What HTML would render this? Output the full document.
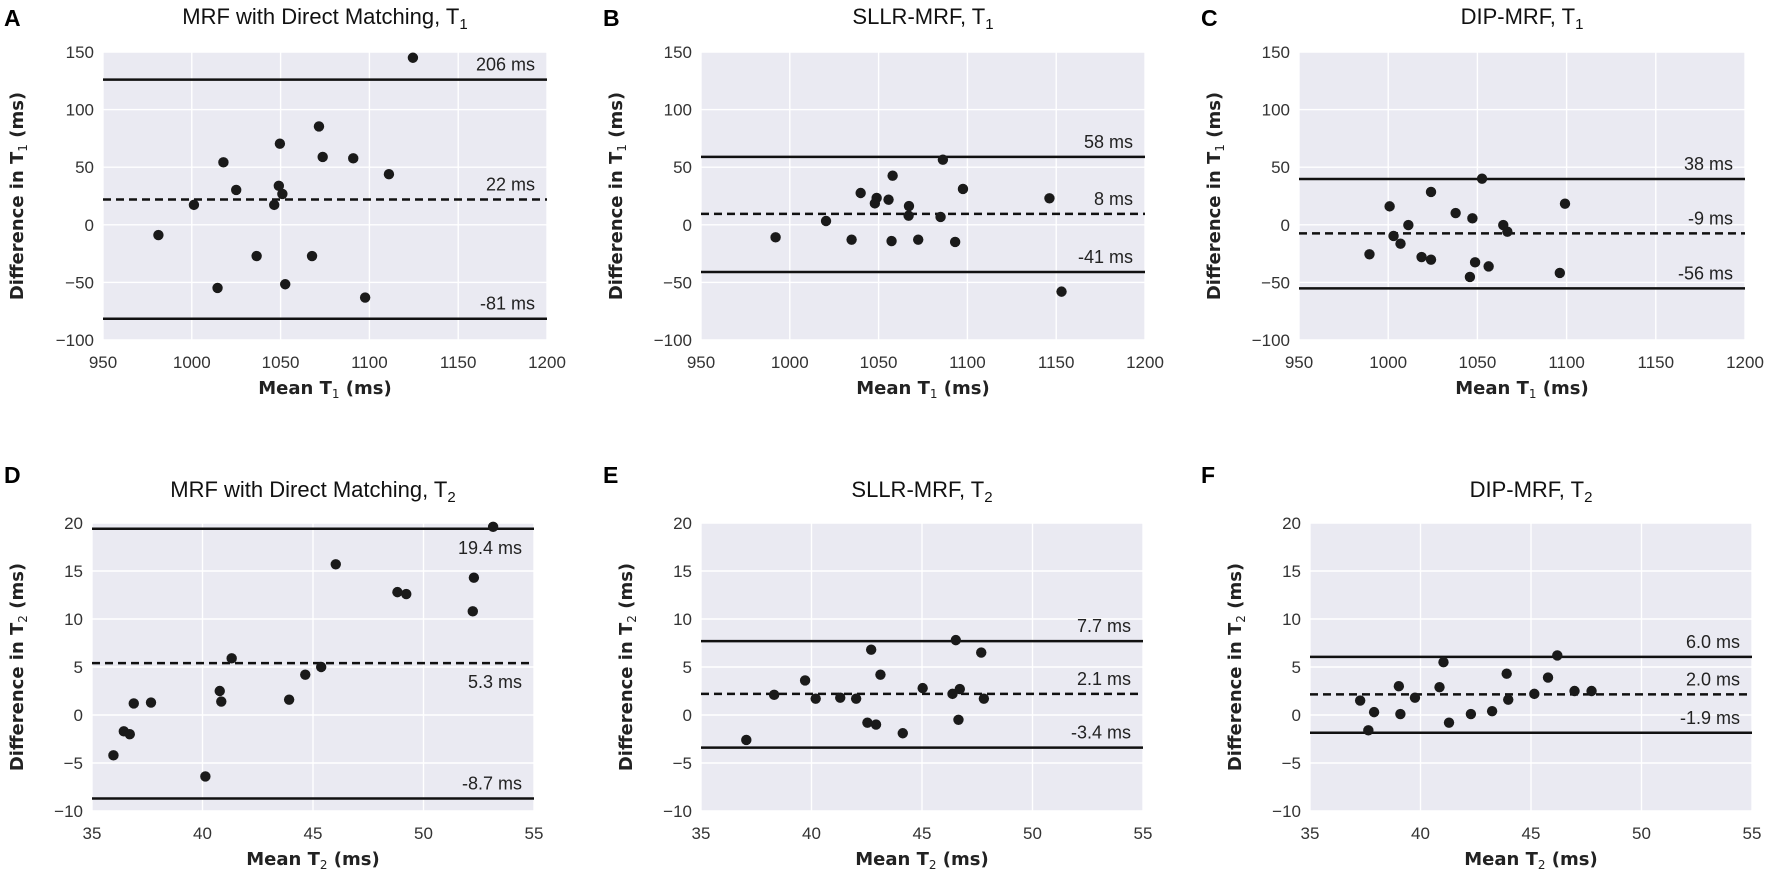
<!DOCTYPE html>
<html>
<head>
<meta charset="utf-8">
<style>
  html, body { margin:0; padding:0; background:#fff; }
  svg { display:block; font-family:"Liberation Sans", Arial, sans-serif; }
</style>
</head>
<body>
<svg id="fig" width="1772" height="877" viewBox="0 0 1772 877" xmlns="http://www.w3.org/2000/svg"></svg>
<script>
// ---------- Data ----------
const aX = [1124.5,1071.6,1049.6,1017.8,1073.7,1090.9,1111,1049,1051,1025,1001.2,1046.4,981.2,1036.5,1067.7,1014.5,1052.6,1097.6];
const aY = [145,85.4,70.4,54.2,58.9,57.7,43.9,33.8,26.8,30.3,17.3,17.3,-8.9,-27.1,-27.1,-54.8,-51.6,-63.2];
const aLines = [126, 22, -81.5];
const aLineLabels = ["206 ms", "22 ms", "-81 ms"];

const bX = [992.0,1020.4,1034.8,1039.9,1047.9,1048.9,1055.6,1057.9,1057.3,1067.1,1066.9,1072.3,1086.2,1084.9,1093.1,1097.5,1146.2,1153.0];
const bY = [-10.9,3.3,-12.9,27.6,18.6,23.3,21.8,42.6,-14.1,16.3,7.9,-12.9,56.5,6.8,-14.9,31.1,23.0,-58.0];
const bLines = [59, 9.5, -41];
const bLineLabels = ["58 ms", "8 ms", "-41 ms"];

const cX = [989.5,1000.8,1003.0,1006.9,1011.3,1018.7,1024.0,1024.0,1037.8,1045.8,1047.2,1048.7,1052.6,1056.3,1064.5,1066.8,1096.2,1099.1];
const cY = [-25.6,16.0,-9.7,-16.4,-0.2,-28.0,28.5,-30.3,10.2,-45.3,5.6,-32.6,40.0,-36.1,-0.2,-6.0,-41.8,18.3];
const cLines = [39.8, -7.4, -55.2];
const cLineLabels = ["38 ms", "-9 ms", "-56 ms"];

const dX = [53.15,46.03,52.28,48.82,49.22,52.23,41.32,45.37,44.65,40.78,40.85,43.92,36.89,37.67,36.44,36.71,35.97,40.13];
const dY = [19.6,15.7,14.3,12.8,12.6,10.8,5.9,5.0,4.2,2.5,1.4,1.6,1.2,1.3,-1.7,-2.0,-4.2,-6.4];
const dLines = [19.4, 5.4, -8.7];
const dLineLabels = ["19.4 ms", "5.3 ms", "-8.7 ms"];

const eX = [37.05,38.31,39.71,40.19,41.30,42.02,42.70,42.53,42.92,43.12,44.13,45.03,46.38,46.53,46.71,46.65,47.68,47.80];
const eY = [-2.6,2.1,3.6,1.7,1.8,1.7,6.8,-0.8,-1.0,4.2,-1.9,2.8,2.2,7.8,2.7,-0.5,6.5,1.7];
const eLines = [7.7, 2.2, -3.4];
const eLineLabels = ["7.7 ms", "2.1 ms", "-3.4 ms"];

const fX = [37.27,37.64,37.90,39.02,39.09,39.75,40.86,41.04,41.29,42.28,43.24,43.90,43.97,45.15,45.77,46.19,46.97,47.74];
const fY = [1.5,-1.6,0.3,3.0,0.1,1.8,2.9,5.5,-0.8,0.1,0.4,4.3,1.6,2.2,3.9,6.2,2.5,2.5];
const fLines = [6.05, 2.15, -1.85];
const fLineLabels = ["6.0 ms", "2.0 ms", "-1.9 ms"];

const t1XTicks = [950,1000,1050,1100,1150,1200];
const t1YTicks = [150,100,50,0,-50,-100];
const t2XTicks = [35,40,45,50,55];
const t2YTicks = [20,15,10,5,0,-5,-10];

// ---------- Rendering ----------
const NS = "http://www.w3.org/2000/svg";
const svg = document.getElementById("fig");
function mk(tag, attrs, parent) {
  const e = document.createElementNS(NS, tag);
  for (const k in attrs) e.setAttribute(k, attrs[k]);
  (parent || svg).appendChild(e);
  return e;
}
function fmt(v) { return v < 0 ? "\u2212" + Math.abs(v) : String(v); }

function panel(cfg) {
  const g = mk("g", {});
  
  
  const {L, R, T, B} = cfg;
  const xs = v => L + (v - cfg.xMin) / (cfg.xMax - cfg.xMin) * (R - L);
  const ys = v => T + (cfg.yMax - v) / (cfg.yMax - cfg.yMin) * (B - T);

  const bg = mk("rect", {x:L, y:T, width:R-L, height:B-T, fill:"#EAEAF2"}, g);
  
  

  cfg.xTicks.forEach(t => {
    const gl = mk("line", {x1:xs(t), x2:xs(t), y1:T, y2:B, stroke:"#fff", "stroke-width":1.4}, g);
    
    
    const tl = mk("text", {x:xs(t), y:B+28, "text-anchor":"middle", "font-size":17, fill:"#333"}, g);
    tl.textContent = fmt(t);
    
    
  });
  cfg.yTicks.forEach(t => {
    const gl = mk("line", {x1:L, x2:R, y1:ys(t), y2:ys(t), stroke:"#fff", "stroke-width":1.4}, g);
    
    
    const tl = mk("text", {x:L-9, y:ys(t)+6, "text-anchor":"end", "font-size":17, fill:"#333"}, g);
    tl.textContent = fmt(t);
    
    
  });

  const names = ["upper-limit-line", "mean-difference-line", "lower-limit-line"];
  cfg.lines.forEach((v, i) => {
    const attrs = {x1:L, x2:R, y1:ys(v), y2:ys(v), stroke:"#111", "stroke-width":2.5};
    if (i === 1) attrs["stroke-dasharray"] = "8,5";
    const ln = mk("line", attrs, g);
    
    
    const below = cfg.labelBelow[i];
    const lb = mk("text", {x:R-12, y: below ? ys(v)+25 : ys(v)-9, "text-anchor":"end", "font-size":18, fill:"#222"}, g);
    lb.textContent = cfg.lineLabels[i];
    
    
  });

  cfg.px.forEach((xv, i) => {
    const c = mk("circle", {cx:xs(xv), cy:ys(cfg.py[i]), r:5.2, fill:"#1a1a1a"}, g);
    
    
  });

  const pl = mk("text", {x:cfg.letterX, y:cfg.letterY, "font-size":23, "font-weight":"bold", fill:"#000"}, g);
  pl.textContent = cfg.letter;
  
  

  const tt = mk("text", {x:(L+R)/2, y:cfg.titleY, "text-anchor":"middle", "font-size":22, fill:"#111"}, g);
  
  
  tt.appendChild(document.createTextNode(cfg.title + ", T"));
  const ts = mk("tspan", {"font-size":15, dy:5}, tt);
  ts.textContent = cfg.sub;

  const xl = mk("text", {x:(L+R)/2, y:B+54, "text-anchor":"middle", "font-size":18, "font-weight":"bold", fill:"#222", "font-family":"DejaVu Sans, sans-serif"}, g);
  
  
  xl.appendChild(document.createTextNode("Mean T"));
  const xs2 = mk("tspan", {"font-size":12, "font-weight":"normal", dy:4}, xl);
  xs2.textContent = cfg.sub;
  const xs3 = mk("tspan", {dy:-4}, xl);
  xs3.textContent = " (ms)";

  const yc = (T+B)/2, yx = cfg.yLabelX;
  const yl = mk("text", {x:yx, y:yc, "text-anchor":"middle", "font-size":18, "font-weight":"bold", fill:"#222", "font-family":"DejaVu Sans, sans-serif", transform:`rotate(-90 ${yx} ${yc})`}, g);
  
  
  yl.appendChild(document.createTextNode("Difference in T"));
  const ys2 = mk("tspan", {"font-size":12, "font-weight":"normal", dy:4}, yl);
  ys2.textContent = cfg.sub;
  const ys3 = mk("tspan", {dy:-4}, yl);
  ys3.textContent = " (ms)";
}

const t1 = {xMin:950, xMax:1200, yMin:-100, yMax:150, xTicks:t1XTicks, yTicks:t1YTicks, T:52, B:340, sub:"1", titleY:24, letterY:26};
const t2 = {xMin:35, xMax:55, yMin:-10, yMax:20, xTicks:t2XTicks, yTicks:t2YTicks, T:523, B:811, sub:"2", titleY:497, letterY:483};

panel(Object.assign({}, t1, {letter:"A", letterX:4, L:103, R:547, yLabelX:23, title:"MRF with Direct Matching", px:aX, py:aY, lines:aLines, lineLabels:aLineLabels, labelBelow:[false,false,false]}));
panel(Object.assign({}, t1, {letter:"B", letterX:603, L:701, R:1145, yLabelX:622, title:"SLLR-MRF", px:bX, py:bY, lines:bLines, lineLabels:bLineLabels, labelBelow:[false,false,false]}));
panel(Object.assign({}, t1, {letter:"C", letterX:1201, L:1299, R:1745, yLabelX:1220, title:"DIP-MRF", px:cX, py:cY, lines:cLines, lineLabels:cLineLabels, labelBelow:[false,false,false]}));
panel(Object.assign({}, t2, {letter:"D", letterX:4, L:92, R:534, yLabelX:23, title:"MRF with Direct Matching", px:dX, py:dY, lines:dLines, lineLabels:dLineLabels, labelBelow:[true,true,false]}));
panel(Object.assign({}, t2, {letter:"E", letterX:603, L:701, R:1143, yLabelX:632, title:"SLLR-MRF", px:eX, py:eY, lines:eLines, lineLabels:eLineLabels, labelBelow:[false,false,false]}));
panel(Object.assign({}, t2, {letter:"F", letterX:1201, L:1310, R:1752, yLabelX:1241, title:"DIP-MRF", px:fX, py:fY, lines:fLines, lineLabels:fLineLabels, labelBelow:[false,false,false]}));
</script>
</body>
</html>
